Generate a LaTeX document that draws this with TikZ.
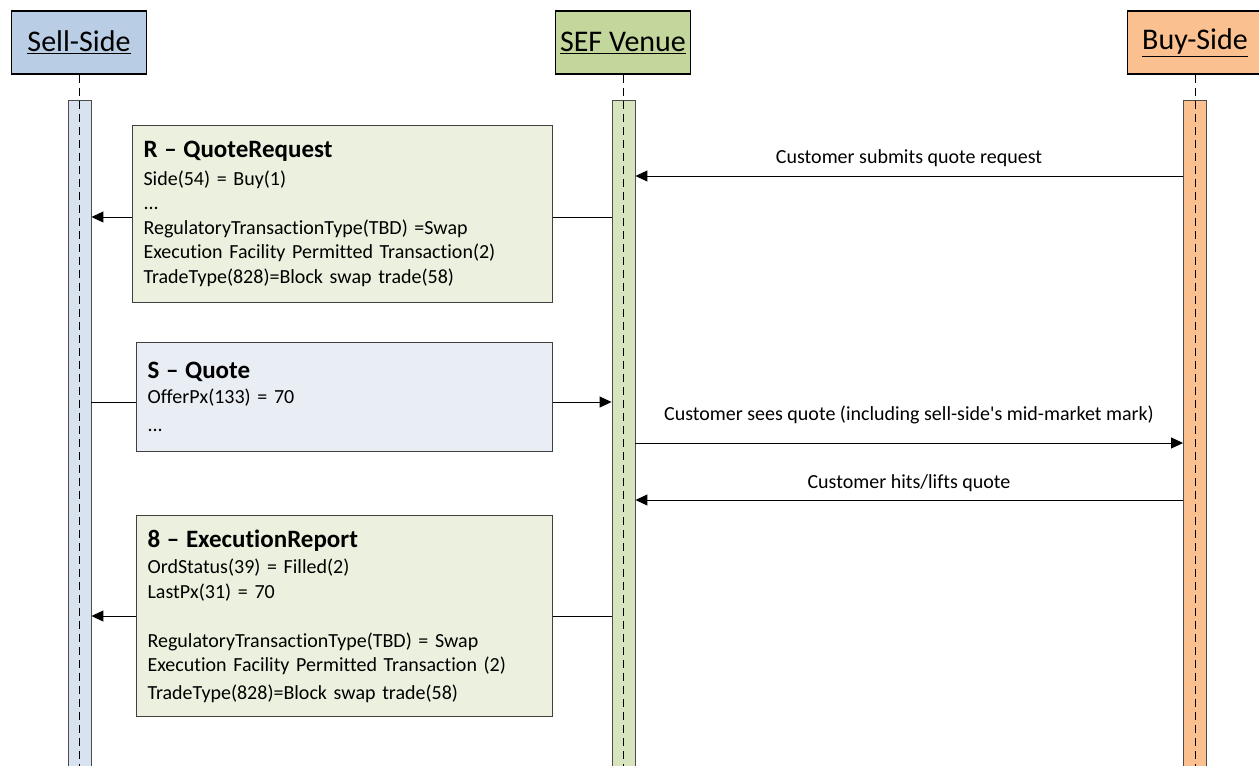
\documentclass[tikz,border=0pt]{standalone}
\usepackage{fontspec}
\setmainfont{Carlito}[Ligatures={NoCommon}]
\usetikzlibrary{arrows.meta}
\definecolor{sellhead}{HTML}{B9CDE5}
\definecolor{sellbar}{HTML}{D9E2EF}
\definecolor{sefhead}{HTML}{C3D69B}
\definecolor{sefbar}{HTML}{D7E4BD}
\definecolor{buyhead}{HTML}{FAC090}
\definecolor{greenmsg}{HTML}{EBF1DE}
\definecolor{bluemsg}{HTML}{E9EDF4}
\newcommand{\msgtitle}[1]{{\fontsize{25}{28}\selectfont\bfseries #1}}

\begin{document}
\begin{tikzpicture}
  [x=1pt,y=-1pt,
   head/.style={draw,line width=1.2pt,minimum width=135pt,minimum height=63pt,inner sep=0pt,
     font=\fontsize{30}{36}\selectfont},
   bar/.style={draw=black!70,line width=0.9pt,minimum width=23pt,minimum height=680pt,
     inner sep=0pt,anchor=north},
   life/.style={dashed,dash pattern=on 8pt off 5pt,line width=0.9pt},
   msg/.style={draw=black!75,line width=1.1pt,anchor=north west,align=left,inner xsep=11pt,
     inner ysep=0pt,font=\fontsize{20}{24.5}\selectfont},
   call/.style={line width=1pt,-{Triangle[length=12pt,width=11pt]}},
   lbl/.style={font=\fontsize{20}{24}\selectfont,inner sep=0pt}]
  \useasboundingbox (0,0) rectangle (1259,766);

  \node[head,fill=sellhead] (sell) at (79,42.5) {\underline{Sell-Side}};
  \node[head,fill=sefhead]  (sef)  at (623,42.5) {\underline{SEF Venue}};
  \node[head,fill=buyhead]  (buy)  at (1195,42.5) {\underline{Buy-Side}};

  \node[bar,fill=sellbar] (sellact) at (79.5,100) {};
  \node[bar,fill=sefbar]  (sefact)  at (623.5,100) {};
  \node[bar,fill=buyhead] (buyact)  at (1195,100) {};

  \foreach \p in {sell,sef,buy}
    \draw[life] (\p.south) -- (\p.south |- 0,780);

  \coordinate (m1) at (0,176);
  \coordinate (m2) at (0,217);
  \coordinate (m3) at (0,402);
  \coordinate (m4) at (0,443);
  \coordinate (m5) at (0,500);
  \coordinate (m6) at (0,616);

  \draw[call] (buyact.west |- m1) -- (sefact.east |- m1);
  \draw[call] (sefact.west |- m2) -- (sellact.east |- m2);
  \draw[call] (sellact.east |- m3) -- (sefact.west |- m3);
  \draw[call] (sefact.east |- m4) -- (buyact.west |- m4);
  \draw[call] (buyact.west |- m5) -- (sefact.east |- m5);
  \draw[call] (sefact.west |- m6) -- (sellact.east |- m6);

  \node[msg,fill=greenmsg,text width=398pt,minimum height=177pt] (qreq) at (132,125)
    {\msgtitle{R – QuoteRequest}\\[3pt]
     Side(54) = Buy(1)\\
     ...\\
     RegulatoryTransactionType(TBD) =Swap\\
     Execution Facility Permitted Transaction(2)\\
     TradeType(828)=Block swap trade(58)};
  \node[msg,fill=bluemsg,text width=394pt,minimum height=109pt] (quote) at (136,342)
    {\msgtitle{S – Quote}\\
     OfferPx(133) = 70\\[4pt]
     ...};
  \node[msg,fill=greenmsg,text width=394pt,minimum height=201pt] (exrep) at (136,515)
    {\msgtitle{8 – ExecutionReport}\\[2pt]
     OrdStatus(39) = Filled(2)\\
     LastPx(31) = 70\\[24.5pt]
     RegulatoryTransactionType(TBD) = Swap\\
     Execution Facility Permitted Transaction (2)\\[3pt]
     TradeType(828)=Block swap trade(58)};

  \node[lbl] (lreq) at (909,158) {Customer submits quote request};
  \node[lbl] (lsee) at (909,415) {Customer sees quote (including sell-side\textquotesingle s mid-market mark)};
  \node[lbl] (lhit) at (909,483) {Customer hits/lifts quote};
\end{tikzpicture}
\end{document}
